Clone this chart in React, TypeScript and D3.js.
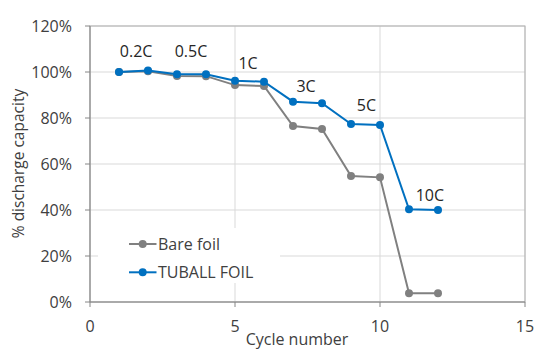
import React from "react";
import * as d3 from "d3";

const cycles = [1, 2, 3, 4, 5, 6, 7, 8, 9, 10, 11, 12];
const bareFoil = [100, 100.3, 98.3, 98.2, 94.3, 93.9, 76.5, 75.2, 54.8, 54.2, 3.8, 3.8];
const tuballFoil = [100, 100.7, 99.0, 99.0, 96.2, 95.8, 87.1, 86.4, 77.4, 77.0, 40.3, 40.0];
const seriesNames = ["Bare foil", "TUBALL FOIL"];
const seriesColors = ["#808080", "#0070C0"];
const rateLabels = ["0.2C", "0.5C", "1C", "3C", "5C", "10C"];
// where each C-rate label sits (cycle, % value of its baseline)
const rateAt = [1.59, 3.48, 5.45, 7.45, 9.53, 11.72];
const rateY = [106.7, 106.7, 101.2, 91.4, 83.2, 44.0];
const xTicks = [0, 5, 10, 15];
const yTicks = [0, 20, 40, 60, 80, 100, 120];

const W = 550;
const H = 351;
const font = "'Open Sans', 'Liberation Sans', sans-serif";

export default function App() {
  const left = 90, right = 525, top = 26, bottom = 302;
  const x = d3.scaleLinear().domain([0, 15]).range([left, right]);
  const y = d3.scaleLinear().domain([0, 120]).range([bottom, top]);
  const line = d3
    .line<number>()
    .x((_, i) => x(cycles[i]))
    .y((d) => y(d));
  const series = [bareFoil, tuballFoil];

  return (
    <svg width={W} height={H} style={{ position: "absolute", left: 0, top: 0 }}>
      <rect width={W} height={H} fill="#fff" />
      {/* gridlines */}
      {yTicks.map((t) => (
        <line key={"gy" + t} x1={left} x2={right} y1={y(t)} y2={y(t)} stroke="#d9d9d9" strokeWidth={1} />
      ))}
      {xTicks.map((t) => (
        <line key={"gx" + t} x1={x(t)} x2={x(t)} y1={top} y2={bottom} stroke="#d9d9d9" strokeWidth={1} />
      ))}
      <rect x={left} y={top} width={right - left} height={bottom - top} fill="none" stroke="#b0b0b0" strokeWidth={1} />
      {/* axes */}
      <line x1={left} x2={right} y1={bottom} y2={bottom} stroke="#868686" strokeWidth={1} />
      <line x1={left} x2={left} y1={top} y2={bottom} stroke="#868686" strokeWidth={1} />
      {xTicks.map((t) => (
        <g key={"xt" + t}>
          <line x1={x(t)} x2={x(t)} y1={bottom} y2={bottom + 5} stroke="#868686" />
          <text x={x(t)} y={332} textAnchor="middle" fontFamily={font} fontSize={16} fill="#404040">
            {t}
          </text>
        </g>
      ))}
      {yTicks.map((t) => (
        <g key={"yt" + t}>
          <line x1={left - 5} x2={left} y1={y(t)} y2={y(t)} stroke="#868686" />
          <text x={72} y={y(t) + 6} textAnchor="end" fontFamily={font} fontSize={16} fill="#404040">
            {t}%
          </text>
        </g>
      ))}
      <text x={297} y={345} textAnchor="middle" fontFamily={font} fontSize={16} fill="#404040">
        Cycle number
      </text>
      <text
        transform={`translate(24,163.5) rotate(-90)`}
        textAnchor="middle"
        fontFamily={font}
        fontSize={15.5}
        fill="#404040"
      >
        % discharge capacity
      </text>
      {/* legend background */}
      <rect x={98} y={228} width={182} height={55} fill="#fff" />
      {/* series */}
      {series.map((s, k) => (
        <g key={"s" + k}>
          <path d={line(s) || ""} fill="none" stroke={seriesColors[k]} strokeWidth={2} />
          {s.map((v, i) => (
            <circle key={i} cx={x(cycles[i])} cy={y(v)} r={4} fill={seriesColors[k]} />
          ))}
        </g>
      ))}
      {/* rate labels */}
      {rateLabels.map((r, i) => (
        <text key={r} x={x(rateAt[i])} y={y(rateY[i])} textAnchor="middle" fontFamily={font} fontSize={16} fill="#262626">
          {r}
        </text>
      ))}
      {/* legend */}
      {seriesNames.map((n, k) => (
        <g key={n} transform={`translate(129,${244 + k * 28.3})`}>
          <line x1={0} x2={27.5} y1={0} y2={0} stroke={seriesColors[k]} strokeWidth={2} />
          <circle cx={13.7} cy={0} r={4} fill={seriesColors[k]} />
          <text x={29} y={6} fontFamily={font} fontSize={16} fill="#404040">
            {n}
          </text>
        </g>
      ))}
    </svg>
  );
}
